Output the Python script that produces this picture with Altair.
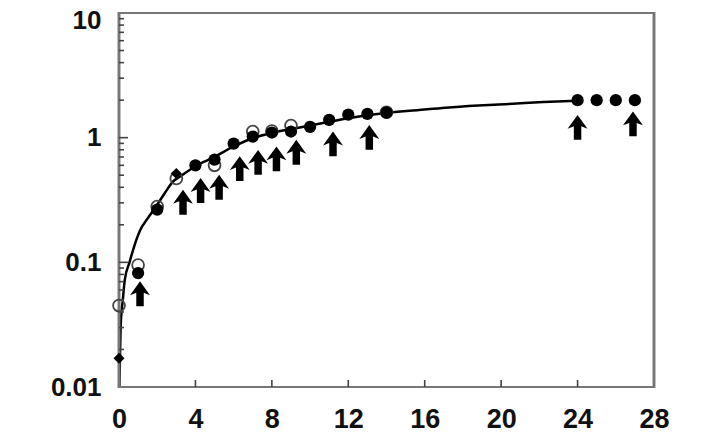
import altair as alt
import pandas as pd

# ---- data ----
filled_x = [1, 2, 4, 5, 6, 7, 8, 9, 10, 11, 12, 13, 14, 24, 25, 26, 27]
filled_y = [0.082, 0.265, 0.60, 0.667, 0.895, 1.02, 1.10, 1.12, 1.22, 1.39, 1.53, 1.55, 1.59, 2.0, 2.0, 2.0, 2.0]

open_x = [0, 1, 2, 3, 5, 7, 8, 9, 14]
open_y = [0.045, 0.095, 0.28, 0.47, 0.60, 1.12, 1.13, 1.25, 1.60]

diamond_x = [0, 3]
diamond_y = [0.017, 0.515]

arrow_x = [1.1, 3.35, 4.27, 5.24, 6.32, 7.28, 8.24, 9.28, 11.2, 13.1, 24.0, 26.9]
arrow_y = [0.056, 0.303, 0.377, 0.40, 0.565, 0.634, 0.676, 0.763, 0.891, 1.005, 1.21, 1.29]

curve_x = [0.02, 0.05, 0.1, 0.2, 0.3, 0.55, 0.8, 1.1, 1.5, 1.9, 2.4, 2.8, 3.3, 4.0, 5.0, 6.0,
           7.0, 8.0, 9.0, 10.0, 11.0, 12.0, 13.0, 14.0, 15.6, 17.1, 18.8, 20.6, 22.2, 24.0]
curve_y = [0.010, 0.017, 0.034, 0.050, 0.072, 0.10, 0.135, 0.18, 0.225, 0.275, 0.36, 0.44, 0.50,
           0.59, 0.70, 0.85, 0.99, 1.09, 1.17, 1.25, 1.34, 1.43, 1.51, 1.58, 1.66, 1.74, 1.81,
           1.87, 1.93, 1.98]

x_ticks = [0, 4, 8, 12, 16, 20, 24, 28]
x_inner_ticks = [4, 8, 12, 16, 20, 24]
y_ticks = [0.01, 0.1, 1, 10]
y_major_inner = [0.1, 1]
y_minor_inner = [m * d for d in [0.01, 0.1, 1] for m in range(2, 10)]

W, H = 535, 374
FONT = "Liberation Sans"

xs = alt.Scale(domain=[0, 28], nice=False, zero=False)
ys = alt.Scale(type="log", domain=[0.01, 10], nice=False)

df_curve = pd.DataFrame({"x": curve_x, "y": curve_y})
df_filled = pd.DataFrame({"x": filled_x, "y": filled_y})
df_open = pd.DataFrame({"x": open_x, "y": open_y})
df_diam = pd.DataFrame({"x": diamond_x, "y": diamond_y})
df_arrow = pd.DataFrame({"x": arrow_x, "y": arrow_y})
df_xt = pd.DataFrame({"x": x_inner_ticks})
df_ymaj = pd.DataFrame({"y": y_major_inner})
df_ymin = pd.DataFrame({"y": y_minor_inner})

x_axis = alt.Axis(values=x_ticks, title=None, grid=False, ticks=False, domain=False,
                  labelFont=FONT, labelFontSize=27, labelFontWeight="bold",
                  labelColor="#111", labelPadding=19, labelFlush=False)
y_axis = alt.Axis(values=y_ticks, title=None, grid=False, ticks=False, domain=False,
                  labelFont=FONT, labelFontSize=26, labelFontWeight="bold",
                  labelColor="#111", labelPadding=18, format="~g", labelFlush=False,
                  labelOffset=alt.condition("datum.value == 10", alt.value(7), alt.value(0)))

curve = alt.Chart(df_curve).mark_line(color="#000", strokeWidth=2.5, interpolate="monotone").encode(
    x=alt.X("x:Q", scale=xs, axis=x_axis),
    y=alt.Y("y:Q", scale=ys, axis=y_axis),
)

frame = alt.Chart(df_xt).mark_rect(filled=False, stroke="#777", strokeWidth=2.2, fillOpacity=0).encode(
    x=alt.value(0), x2=alt.value(W), y=alt.value(0), y2=alt.value(H)
)

xt = alt.Chart(df_xt).mark_rule(color="#444", strokeWidth=1.6).encode(
    x=alt.X("x:Q", scale=xs), y=alt.value(H), y2=alt.value(H - 7)
)
ymaj = alt.Chart(df_ymaj).mark_rule(color="#444", strokeWidth=1.6).encode(
    y=alt.Y("y:Q", scale=ys), x=alt.value(0), x2=alt.value(9)
)
ymin = alt.Chart(df_ymin).mark_rule(color="#444", strokeWidth=1.6).encode(
    y=alt.Y("y:Q", scale=ys), x=alt.value(0), x2=alt.value(5)
)

opened = alt.Chart(df_open).mark_point(shape="circle", filled=False, size=140,
                                       stroke="#444", strokeWidth=1.8, opacity=1).encode(
    x=alt.X("x:Q", scale=xs), y=alt.Y("y:Q", scale=ys)
)
filled = alt.Chart(df_filled).mark_point(shape="circle", filled=True, size=150,
                                         color="#000", opacity=1).encode(
    x=alt.X("x:Q", scale=xs), y=alt.Y("y:Q", scale=ys)
)
diam = alt.Chart(df_diam).mark_point(shape="diamond", filled=True, size=120,
                                     color="#000", opacity=1).encode(
    x=alt.X("x:Q", scale=xs), y=alt.Y("y:Q", scale=ys)
)
ARROW = "M0,-1L0.8,0.12L0.3,-0.08L0.3,1L-0.3,1L-0.3,-0.08L-0.8,0.12Z"
arrows = alt.Chart(df_arrow).mark_point(shape=ARROW, filled=True, size=620,
                                        color="#000", opacity=1).encode(
    x=alt.X("x:Q", scale=xs), y=alt.Y("y:Q", scale=ys)
)

chart = alt.layer(curve, frame, ymin, ymaj, xt, opened, filled, diam, arrows).properties(
    width=W, height=H,
    background="white",
    autosize=alt.AutoSizeParams(type="none"),
    padding={"left": 111, "top": 5, "right": 40, "bottom": 50},
).configure_view(stroke=None)

chart.save("out.html", embed_options={"renderer": "svg", "actions": False})
